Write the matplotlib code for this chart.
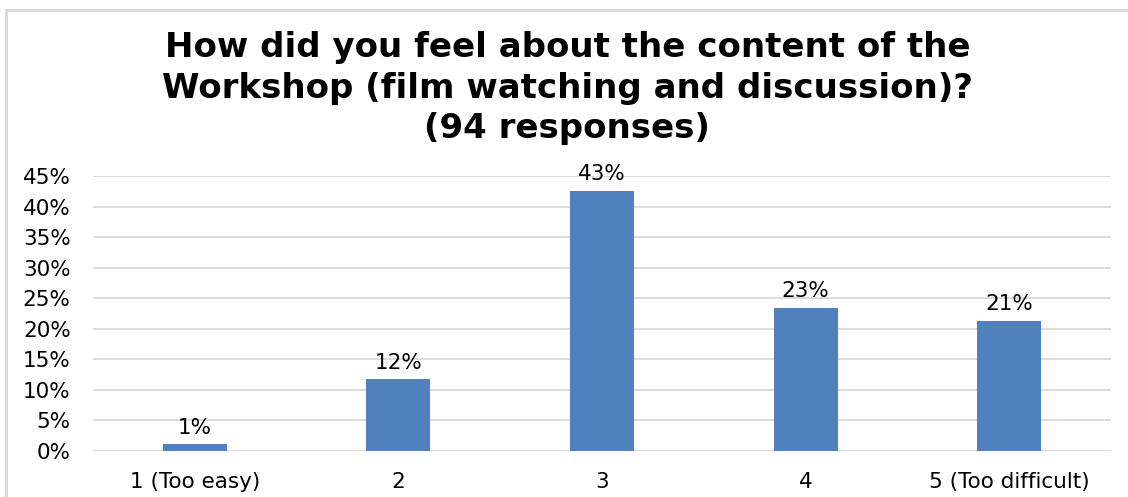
import numpy as np
import matplotlib.pyplot as plt
from matplotlib.patches import Rectangle
from matplotlib.ticker import PercentFormatter

# survey answers (94 responses)
categories = ['1 (Too easy)', '2', '3', '4', '5 (Too difficult)']
counts = [1, 11, 40, 22, 20]
total = 94
shares = [c / total for c in counts]

bar_color = '#4f81bd'
grid_color = '#d9d9d9'

fig = plt.figure(figsize=(11.28, 4.97), dpi=100)
ax = fig.add_axes([0.0824, 0.0926, 0.9026, 0.5533])

x = np.arange(len(categories))
bars = ax.bar(x, shares, width=0.315, color=bar_color, zorder=3)

for rect, v in zip(bars, shares):
    ax.annotate(f'{v:.0%}', (rect.get_x() + rect.get_width() / 2, v),
                xytext=(0, 5), textcoords='offset points',
                ha='center', va='bottom', fontsize=15.5, color='black')

ax.set_xlim(-0.5, len(categories) - 0.5)
ax.set_ylim(0, 0.45)
ax.set_yticks(np.arange(0, 0.451, 0.05))
ax.yaxis.set_major_formatter(PercentFormatter(1.0, decimals=0))
ax.set_xticks(x)
ax.set_xticklabels(categories)
ax.tick_params(axis='both', length=0, labelsize=15.5, colors='black')
ax.tick_params(axis='y', pad=16)
ax.tick_params(axis='x', pad=15)

ax.grid(axis='y', color=grid_color, linewidth=1.3, zorder=0)
for s in ax.spines.values():
    s.set_visible(False)

fig.text(0.503, 0.937,
         'How did you feel about the content of the\n'
         'Workshop (film watching and discussion)?\n'
         '(94 responses)',
         ha='center', va='top', fontsize=24.5, fontweight='bold',
         linespacing=1.28)

# outer chart border
fig.patches.append(Rectangle((6 / 1128, -0.1), 1.2, 1.1 - 10 / 497,
                             transform=fig.transFigure, fill=False,
                             edgecolor='#d9d9d9', linewidth=2))

fig.savefig('out.png', dpi=100)
